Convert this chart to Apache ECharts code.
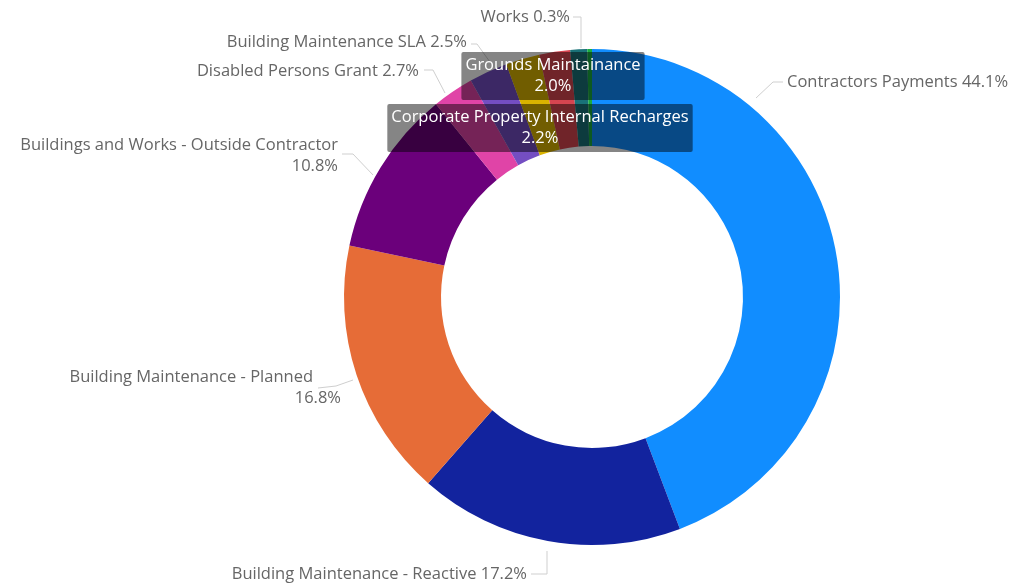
<!DOCTYPE html>
<html>
<head>
<meta charset="utf-8">
<script src="https://cdn.jsdelivr.net/npm/echarts@6/dist/echarts.min.js"></script>
<style>
  html, body { margin: 0; padding: 0; background: #ffffff; }
  #chart { width: 1011px; height: 584px; }
</style>
</head>
<body>
<div id="chart"></div>
<script>
// Spend share by cost category (percent of total)
const categories = [
  'Contractors Payments',
  'Building Maintenance - Reactive',
  'Building Maintenance - Planned',
  'Buildings and Works - Outside Contractor',
  'Disabled Persons Grant',
  'Building Maintenance SLA',
  'Corporate Property Internal Recharges',
  'Grounds Maintainance',
  'Other',
  'Works'
];
const shares = [44.1, 17.2, 16.8, 10.8, 2.7, 2.5, 2.2, 2.0, 1.1, 0.3];

// Slice colours, in category order
const sliceColors = ['#118DFF', '#12239E', '#E66C37', '#6B007B', '#E044A7',
                     '#744EC2', '#D9B300', '#D64550', '#197278', '#1AAB40'];

// Categories whose label wraps the percentage onto a second line
const wrapped = [false, false, true, true, false, false, true, true, false, false];
// Categories whose label is drawn as a boxed label over the ring
const boxed = [false, false, false, false, false, false, true, true, false, false];
// Categories drawn without a label
const unlabeled = [false, false, false, false, false, false, false, false, true, false];

// Label placement: text anchor plus leader-line path (start at ring, elbow, end at text)
const labelSpots = [
  { x: 787, y: 82,  align: 'left',   line: [[756, 98], [773, 82], [783, 82]] },
  { x: 527, y: 574, align: 'right',  line: [[547, 551], [547, 574], [531, 574]] },
  { x: 341, y: 388, align: 'right',  line: [[353, 380], [336, 386], [318, 388]], nameGap: 28 },
  { x: 338, y: 156, align: 'right',  line: [[373, 175], [353, 154], [342, 154]] },
  { x: 419, y: 71,  align: 'right',  line: [[445, 93], [433, 70], [424, 70]] },
  { x: 467, y: 42,  align: 'right',  line: [[490, 62], [477, 44], [471, 44]] },
  { x: 540, y: 128, align: 'center', line: null },
  { x: 553, y: 76,  align: 'center', line: null },
  null,
  { x: 570, y: 17,  align: 'right',  line: [[581, 48], [581, 17], [573, 17]] }
];

const FONT = '"Open Sans", "Noto Sans", sans-serif';
const FONT_SIZE = 16.5;

const data = categories.map(function (name, i) {
  const item = {
    name: name,
    value: shares[i],
    itemStyle: { color: sliceColors[i] }
  };
  if (unlabeled[i]) {
    item.label = { show: false };
    item.labelLine = { show: false };
  } else if (boxed[i]) {
    item.label = {
      color: '#ffffff',
      backgroundColor: 'rgba(0,0,0,0.48)',
      padding: [3, 4, 3, 4],
      borderRadius: 2
    };
    item.labelLine = { show: false };
  }
  return item;
});

const chart = echarts.init(document.getElementById('chart'), null, { renderer: 'canvas' });

chart.setOption({
  backgroundColor: '#ffffff',
  animation: false,
  series: [{
    type: 'pie',
    center: [592, 297],
    radius: [151, 248],
    startAngle: 90,
    clockwise: true,
    avoidLabelOverlap: false,
    silent: true,
    data: data,
    label: {
      show: true,
      position: 'outside',
      fontFamily: FONT,
      fontSize: FONT_SIZE,
      lineHeight: 21,
      color: '#666666',
      formatter: function (p) {
        const pct = p.value.toFixed(1) + '%';
        const spot = labelSpots[p.dataIndex];
        if (spot && spot.nameGap) {
          return '{gap|' + p.name + '}\n' + pct;
        }
        return wrapped[p.dataIndex] ? p.name + '\n' + pct : p.name + ' ' + pct;
      },
      rich: {
        gap: {
          fontFamily: FONT,
          fontSize: FONT_SIZE,
          lineHeight: 21,
          color: '#666666',
          padding: [0, 28, 0, 0]
        }
      }
    },
    labelLine: {
      show: true,
      length: 10,
      length2: 10,
      smooth: false,
      lineStyle: { color: '#cfcfcf', width: 1 }
    },
    labelLayout: function (params) {
      const spot = labelSpots[params.dataIndex];
      if (!spot) { return {}; }
      const out = { x: spot.x, y: spot.y, align: spot.align, verticalAlign: 'middle' };
      if (spot.line) { out.labelLinePoints = spot.line; }
      return out;
    }
  }]
});
</script>
</body>
</html>
